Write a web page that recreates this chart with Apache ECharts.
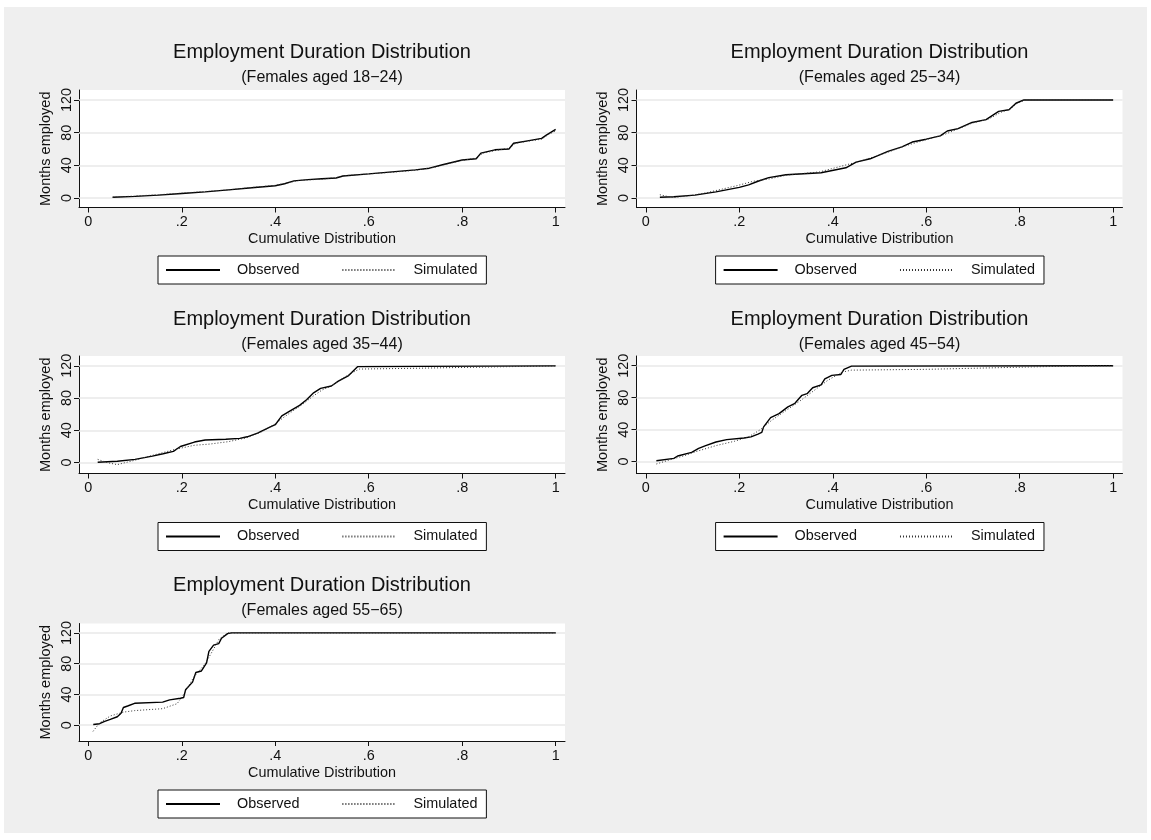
<!DOCTYPE html>
<html>
<head>
<meta charset="utf-8">
<script src="https://cdn.jsdelivr.net/npm/echarts@6/dist/echarts.min.js"></script>
<style>
  html, body { margin: 0; padding: 0; background: #fff; }
  #bg { position: absolute; left: 4px; top: 7px; width: 1143px; height: 826px; background: #efefef; }
  #chart { position: absolute; left: 0; top: 0; width: 1151px; height: 840px; }
</style>
</head>
<body>
<div id="bg"></div>
<div id="chart"></div>
<script>
// panel subtitles
const ageGroups = ['(Females aged 18\u221224)', '(Females aged 25\u221234)', '(Females aged 35\u221244)', '(Females aged 45\u221254)', '(Females aged 55\u221265)'];

// [cumulative share, months employed]
const obs1824 = [[0.052,1],[0.1,2],[0.15,3.5],[0.2,5.5],[0.25,7.5],[0.3,10],[0.35,12.5],[0.4,15],[0.42,17.5],[0.44,21],[0.47,22.5],[0.5,23.5],[0.53,24.5],[0.545,27],[0.6,29.5],[0.65,32],[0.7,34.5],[0.73,36.5],[0.76,41],[0.8,46.5],[0.83,48],[0.84,55],[0.87,59],[0.9,60],[0.91,67],[0.94,70],[0.97,73],[0.98,77],[1,84]];
const sim1824 = [[0.052,1],[0.1,2.5],[0.15,4],[0.2,6],[0.25,8],[0.3,10],[0.35,13],[0.4,15.5],[0.43,19],[0.45,21.5],[0.5,23],[0.53,25],[0.55,27.5],[0.6,29.5],[0.65,31.5],[0.7,34],[0.74,37.5],[0.77,42],[0.8,46],[0.83,49],[0.845,55],[0.87,58],[0.9,61],[0.915,67],[0.94,69.5],[0.97,72],[0.985,78],[1,82]];

const obs2534 = [[0.03,1],[0.06,1.5],[0.105,3.5],[0.15,7.5],[0.2,13],[0.22,16],[0.24,20.5],[0.263,25],[0.3,28.5],[0.375,31],[0.428,37],[0.45,44],[0.48,48],[0.518,57],[0.548,62.5],[0.57,68.5],[0.6,72],[0.63,76],[0.645,82],[0.668,85],[0.698,92.5],[0.728,96],[0.755,106],[0.777,108],[0.792,116],[0.809,120],[1,120]];
const sim2534 = [[0.03,4],[0.058,0.5],[0.094,3],[0.13,6.5],[0.194,15],[0.23,20.5],[0.265,23.5],[0.301,28],[0.372,32],[0.415,38.5],[0.458,45],[0.518,56],[0.55,63],[0.6,71.5],[0.64,78],[0.67,85],[0.7,92],[0.735,97],[0.76,105],[0.78,109],[0.795,116],[0.812,120],[1,120]];

const obs3544 = [[0.02,0.5],[0.062,1.7],[0.1,4],[0.137,8],[0.16,11],[0.182,14],[0.197,20],[0.227,25.5],[0.25,28],[0.294,29],[0.324,30],[0.34,32],[0.362,36.5],[0.385,43],[0.4,47],[0.414,58],[0.43,63.5],[0.452,71],[0.467,78],[0.482,86.5],[0.497,92],[0.52,95],[0.535,101],[0.557,108],[0.576,119],[0.58,120],[1,120]];
const sim3544 = [[0.02,4],[0.04,0],[0.062,-2.5],[0.1,3],[0.137,9],[0.16,12.5],[0.19,17],[0.227,21.5],[0.26,23],[0.3,26],[0.34,31],[0.37,38],[0.4,48],[0.42,57],[0.44,65],[0.46,73],[0.48,82],[0.5,90],[0.52,95],[0.54,103],[0.56,110],[0.58,116],[0.7,117],[0.85,118.5],[1,120]];

const obs4554 = [[0.0225,1],[0.06,4],[0.068,7],[0.098,11.5],[0.113,16.5],[0.128,20],[0.15,24.5],[0.173,27.5],[0.21,29.5],[0.225,31],[0.24,34.5],[0.248,36.5],[0.252,43.5],[0.267,55],[0.285,60],[0.304,68.5],[0.319,73],[0.334,83],[0.345,85],[0.357,92.5],[0.375,96],[0.383,103.5],[0.398,108],[0.417,109],[0.424,115.5],[0.44,119.5],[1,120]];
const sim4554 = [[0.0225,-3],[0.05,2],[0.08,7],[0.11,13],[0.15,20],[0.19,25.5],[0.22,31],[0.245,40],[0.27,52],[0.3,64],[0.33,76],[0.36,89],[0.39,102],[0.42,112],[0.44,114.5],[0.6,115.5],[0.75,117.5],[0.9,119.5],[1,120]];

const obs5565 = [[0.0105,1],[0.024,2],[0.035,5],[0.047,7.5],[0.062,11],[0.07,15.5],[0.075,23],[0.084,25],[0.099,28.5],[0.159,30],[0.174,33],[0.197,35],[0.204,36],[0.208,46],[0.223,56],[0.23,68.5],[0.242,70.5],[0.253,81],[0.258,96],[0.268,104],[0.279,106],[0.285,113],[0.298,119],[0.306,120],[1,120]];
const sim5565 = [[0.01,-8],[0.024,3],[0.047,12],[0.075,17],[0.099,19],[0.159,21.5],[0.19,28],[0.204,40],[0.226,63],[0.249,79],[0.262,92.5],[0.28,112],[0.298,120],[1,120]];

const observed = [obs1824, obs2534, obs3544, obs4554, obs5565];
const simulated = [sim1824, sim2534, sim3544, sim4554, sim5565];

const xTicks = [0, 0.2, 0.4, 0.6, 0.8, 1];
const xTickLabels = ['0', '.2', '.4', '.6', '.8', '1'];
const yTicks = [0, 40, 80, 120];
const yMins = [-11.6, -11.6, -13.5, -14.9, -20.5];

const myChart = echarts.init(document.getElementById('chart'));
const font = 'Liberation Sans, Arial, sans-serif';
const colLeft = [79, 636.5];
const rowTop = [90, 356, 623.5];
const titleTop = [42.6, 309.3, 575.6];
const legendTop = [256, 522.5, 790];
const legendLeft = [158, 715.6];
const plotW = 486, plotH = 117.5;

let grids = [], xAxes = [], yAxes = [], titles = [], legends = [], series = [];
for (let i = 0; i < 5; i++) {
  const c = i % 2, r = Math.floor(i / 2);
  grids.push({left: colLeft[c], top: rowTop[r], width: plotW, height: plotH,
    show: true, backgroundColor: '#fff', borderWidth: 0});
  titles.push({
    text: 'Employment Duration Distribution', subtext: ageGroups[i],
    left: colLeft[c] + plotW / 2, top: titleTop[r], textAlign: 'center', padding: 0, itemGap: 7,
    textStyle: {fontFamily: font, fontSize: 20, fontWeight: 'normal', color: '#111'},
    subtextStyle: {fontFamily: font, fontSize: 16, color: '#111'}
  });
  legends.push({
    data: ['Observed', 'Simulated'], left: legendLeft[c], top: legendTop[r],
    orient: 'horizontal', backgroundColor: '#fff', borderColor: '#111', borderWidth: 1,
    padding: [7, 9, 7, 7], itemWidth: 54, itemHeight: 14, itemGap: 42,
    selectedMode: false,
    // hide the marker dot, keep only the line sample
    itemStyle: {color: 'rgba(0,0,0,0)', borderWidth: 0, opacity: 0},
    textStyle: {fontFamily: font, fontSize: 14.4, color: '#111', padding: [0, 8, 0, 12]}
  });
  xAxes.push({
    type: 'value', gridIndex: i, min: -0.02, max: 1.02,
    name: 'Cumulative Distribution', nameLocation: 'middle', nameGap: 25,
    nameTextStyle: {fontFamily: font, fontSize: 14.4, color: '#111'},
    axisLine: {show: true, onZero: false, lineStyle: {color: '#111', width: 1}},
    axisTick: {show: true, length: 5, customValues: xTicks, lineStyle: {color: '#111'}},
    axisLabel: {customValues: xTicks, margin: 8, fontFamily: font, fontSize: 14.4, color: '#111',
      formatter: v => xTickLabels[xTicks.indexOf(v)]},
    splitLine: {show: false}
  });
  yAxes.push({
    type: 'value', gridIndex: i, min: yMins[i], max: 132.2,
    name: 'Months employed', nameLocation: 'middle', nameGap: 26, nameRotate: 90,
    nameTextStyle: {fontFamily: font, fontSize: 14.5, color: '#111'},
    axisLine: {show: true, onZero: false, lineStyle: {color: '#111', width: 1}},
    axisTick: {show: true, length: 5, customValues: yTicks, lineStyle: {color: '#111'}},
    axisLabel: {customValues: yTicks, rotate: 90, margin: 5, fontFamily: font, fontSize: 14.4, color: '#111'},
    splitLine: {show: false}
  });
  series.push({
    name: 'Observed', type: 'line', xAxisIndex: i, yAxisIndex: i, data: observed[i],
    symbol: 'none', z: 3, lineStyle: {color: '#000', width: 1.4, type: 'solid'}, itemStyle: {color: '#000'},
    markLine: {silent: true, symbol: ['none', 'none'], z: 1, label: {show: false},
      lineStyle: {color: '#e8e8e8', width: 1.6, type: 'solid'},
      data: yTicks.map(v => ({yAxis: v}))}
  });
  series.push({
    name: 'Simulated', type: 'line', xAxisIndex: i, yAxisIndex: i, data: simulated[i],
    symbol: 'none', z: 3, lineStyle: {color: '#333', width: 1, type: [1, 2]}, itemStyle: {color: '#333'}
  });
}

const option = {
  animation: false,
  title: titles,
  legend: legends,
  grid: grids,
  xAxis: xAxes,
  yAxis: yAxes,
  series: series
};
myChart.setOption(option);
</script>
</body>
</html>
